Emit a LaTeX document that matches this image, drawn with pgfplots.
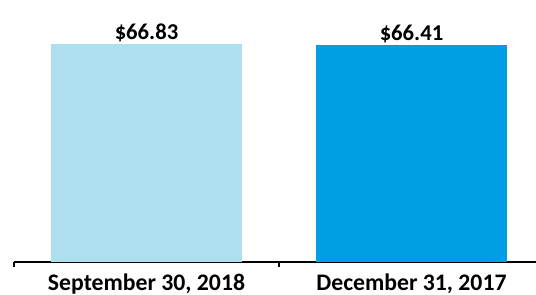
\documentclass[border=0pt]{standalone}
\usepackage{fontspec}
\setmainfont{Carlito}
\usepackage{pgfplots}
\pgfplotsset{compat=1.18}
\definecolor{lightbar}{HTML}{ADDFEF}
\definecolor{darkbar}{HTML}{009FE3}
\begin{document}
\begin{tikzpicture}
\begin{axis}[
  scale only axis,
  width=397.5pt, height=195.75pt,
  xmin=-0.5, xmax=1.5, ymin=0, ymax=80,
  ybar, bar width=143.25pt,
  axis x line=bottom, axis y line=none,
  x axis line style={-, line width=1pt, black},
  xtick={0,1},
  xticklabels={{September 30, 2018}, {December 31, 2017}},
  major x tick style={draw=none},
  minor xtick={-0.5,0.5,1.5},
  minor tick length=3.75pt,
  minor x tick style={line width=1pt, black},
  tick align=outside,
  /pgf/number format/assume math mode=true,
  xticklabel style={font=\bfseries\fontsize{17.8}{20}\selectfont, yshift=-1pt},
  nodes near coords={\$\pgfmathprintnumber[fixed,precision=2,fixed zerofill]{\pgfplotspointmeta}},
  every node near coord/.append style={font=\bfseries\fontsize{17}{20}\selectfont, black, inner sep=1pt, yshift=0.5pt},
  clip=false,
]
\addplot[fill=lightbar, draw=none, bar shift=0pt] coordinates {(0,66.83)};
\addplot[fill=darkbar, draw=none, bar shift=0pt] coordinates {(1,66.41)};
\end{axis}
\pgfresetboundingbox
\path ([shift={(-10.5pt,-24.75pt)}]current axis.south west) rectangle ([shift={(391.5pt,196.5pt)}]current axis.south west);
\end{tikzpicture}
\end{document}
